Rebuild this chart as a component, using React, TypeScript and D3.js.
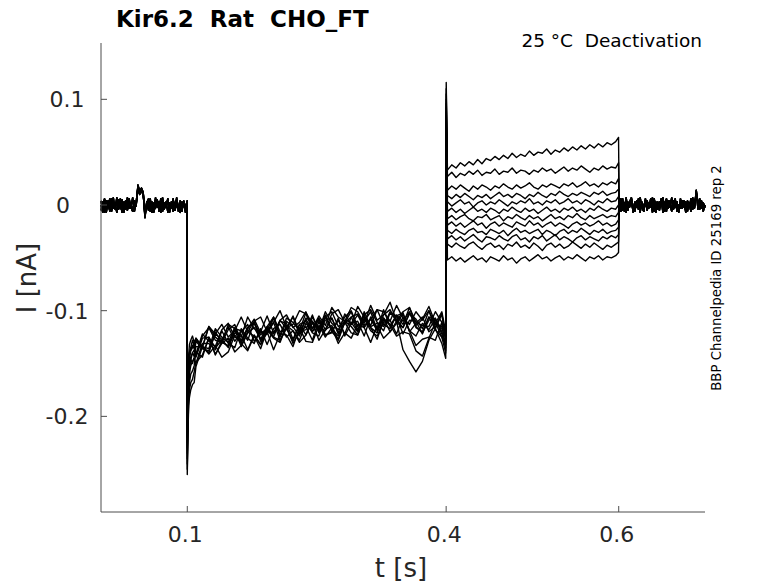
import * as d3 from "d3";

// currents in pA, time in s
const xTicks = [0.1, 0.4, 0.6];
const yTicks = [0.1, 0, -0.1, -0.2];
const yTickLabels = ["0.1", "0", "-0.1", "-0.2"];

// holding segment before the step (three overlapping baseline shapes)
const holdBaselines = [
  [4, -6, 5, -7, 2, -5, 6, -3, 0, -7, 5, -2, -6, 3, -4, 7, -3, 2, -6, 4, -1, 19, 13, 16, 12, -10, 3, -5, 6, -7, 2, -3, 5, -6, 0, 7, -4, 3, -7, 2, -3, 6, -5, 1, -6, 4, -2, 3, -7, 4],
  [-5, 3, -7, 4, -2, 6, -6, 2, -3, 7, -4, 0, 5, -7, 3, -3, 6, -2, -6, 3, 1, 15, 10, 14, 9, -7, -3, 4, -6, 2, -5, 7, -2, 3, -7, 4, -3, 0, 6, -5, 3, -6, 2, 5, -3, -7, 3, 0, -5, 2],
  [0, -7, 6, -3, 4, -6, 2, 7, -4, 3, -2, 6, -7, 0, 4, -5, 2, -3, 7, -6, 3, 17, 12, 15, 11, -12, 2, 6, -4, 3, -7, 0, 4, -3, 6, -6, 2, -2, 5, -7, 0, 3, -5, 7, -3, 2, -6, 4, -2, 3],
];

// tail after the second step
const tailBaselines = [
  [4, -3, 6, -6, 2, -5, 3, 7, -2, -6, 4, 0, -7, 3, -3, 6, -5, 2, -2, 7, -6, 3, 0, -5, 4, -7, 2, 6, -3, 0, -6, 4, -2, 3, -7, 6, -3, 2, -5, 4, 0, -6, 3, -2, 12, -4, 6, -3, 2, -2],
  [-3, 6, -5, 2, -7, 3, -2, 5, -6, 0, 3, -4, 7, -2, -6, 2, 4, -3, 6, -5, 0, -7, 3, -2, 6, -3, 2, -6, 4, -2, 7, -4, 0, 3, -6, 2, -3, 4, -7, 3, -2, 6, -4, 0, 9, 3, -3, 4, -6, 0],
  [2, -6, 3, -3, 7, -4, 0, 4, -7, 3, -2, 6, -3, 2, -6, 4, -4, 0, 3, -7, 6, -2, -4, 3, 0, 7, -6, 2, -3, 4, -4, 2, 6, -6, 0, -3, 4, -2, 3, -6, 2, -4, 7, -3, 14, 2, -4, 3, 0, -3],
];

// fast transient right after the step to the hyperpolarising potential
const earlyTimes = [0.1, 0.1008, 0.1016, 0.1025, 0.104, 0.106, 0.108];
const earlyCurrents = [
  [-205, -170, -150, -140, -135, -128, -133],
  [-220, -180, -158, -146, -138, -135, -131],
  [-235, -192, -168, -155, -147, -140, -143],
  [-240, -198, -172, -160, -152, -148, -145],
  [-200, -162, -142, -132, -128, -124, -130],
  [-250, -210, -185, -175, -168, -165, -158],
  [-225, -185, -162, -150, -144, -140, -137],
  [-255, -215, -190, -182, -175, -170, -168],
  [-215, -175, -152, -142, -137, -134, -130],
  [-230, -190, -166, -152, -146, -150, -144],
  [-245, -205, -180, -168, -160, -157, -152],
  [-210, -172, -150, -140, -136, -133, -136],
];

// hyperpolarising step, sampled from 0.11 s every 7.5 ms
const hyperCurrents = [
  [-128, -134, -115, -125, -130, -113, -117, -125, -106, -117, -120, -105, -121, -109, -104, -116, -111, -101, -117, -107, -118, -103, -99, -111, -113, -96, -106, -114, -99, -101, -110, -95, -107, -113, -101, -109, -100, -117, -103],
  [-141, -122, -129, -134, -118, -112, -125, -128, -116, -111, -127, -115, -106, -120, -117, -106, -122, -107, -110, -119, -101, -112, -118, -106, -100, -115, -110, -101, -118, -104, -99, -111, -116, -103, -108, -117, -100, -113, -115],
  [-129, -136, -138, -122, -127, -135, -117, -119, -128, -111, -129, -117, -122, -110, -112, -127, -113, -123, -106, -117, -119, -107, -122, -112, -106, -120, -101, -115, -112, -119, -102, -108, -116, -102, -115, -121, -109, -107, -120],
  [-150, -131, -131, -137, -119, -131, -135, -117, -126, -131, -117, -132, -117, -113, -125, -119, -128, -112, -120, -108, -123, -121, -107, -124, -112, -110, -124, -106, -117, -107, -120, -112, -103, -119, -124, -112, -118, -108, -122],
  [-126, -135, -115, -122, -113, -125, -119, -106, -120, -110, -106, -120, -111, -100, -116, -113, -100, -103, -117, -105, -114, -97, -106, -110, -97, -101, -112, -95, -109, -104, -92, -110, -101, -97, -114, -108, -96, -112, -101],
  [-149, -142, -126, -141, -131, -126, -139, -133, -120, -124, -136, -118, -126, -130, -114, -119, -130, -123, -111, -128, -118, -114, -128, -111, -121, -123, -108, -116, -127, -109, -113, -124, -120, -122, -138, -143, -126, -111, -125],
  [-144, -126, -125, -135, -128, -115, -129, -120, -113, -129, -120, -122, -107, -125, -110, -115, -124, -108, -119, -116, -104, -120, -109, -122, -106, -103, -114, -108, -119, -99, -115, -105, -102, -120, -112, -106, -120, -115, -103],
  [-153, -134, -141, -133, -144, -139, -123, -131, -138, -124, -132, -120, -137, -122, -123, -134, -116, -129, -130, -114, -125, -116, -131, -121, -126, -113, -116, -130, -114, -126, -120, -110, -137, -148, -158, -148, -128, -117, -131],
  [-143, -124, -116, -128, -130, -118, -113, -129, -117, -108, -121, -118, -106, -123, -107, -111, -119, -102, -112, -119, -106, -101, -115, -111, -101, -118, -104, -99, -111, -115, -101, -105, -113, -97, -111, -114, -115, -101, -111],
  [-134, -134, -140, -120, -130, -133, -118, -134, -121, -116, -127, -122, -111, -128, -117, -129, -113, -110, -121, -124, -106, -117, -124, -109, -111, -120, -104, -116, -121, -107, -114, -105, -122, -109, -110, -122, -106, -118, -125],
  [-139, -144, -125, -142, -129, -134, -121, -123, -137, -123, -132, -115, -125, -128, -115, -131, -120, -115, -128, -110, -123, -120, -127, -110, -115, -123, -107, -119, -124, -111, -109, -122, -106, -119, -133, -127, -125, -128, -111],
  [-126, -134, -136, -117, -125, -130, -116, -131, -116, -111, -123, -116, -125, -109, -117, -105, -120, -118, -104, -121, -109, -107, -121, -103, -113, -104, -116, -108, -99, -113, -117, -104, -110, -101, -116, -120, -106, -109, -117],
];
const preStepCurrents = [-125, -122, -130, -135, -120, -140, -128, -145, -124, -132, -138, -126];

// capacitive spikes at the onset and end of the second step
const onsetSpikes = [116, 110, 105, 100, 96, 92, 88, 84, 80, 76, 72, 68];
const offsetSpikes = [64, 40, 25, 15, 8, 0, -7, -14, -21, -28, -35, -45];

// second step, sampled from 0.4015 s every 5 ms
const depolCurrents = [
  [33, 38, 35, 40, 37, 41, 38, 43, 39, 44, 42, 46, 43, 47, 44, 49, 45, 48, 46, 51, 47, 50, 49, 53, 48, 52, 50, 54, 51, 55, 52, 56, 53, 57, 54, 58, 55, 59, 57, 60],
  [27, 31, 26, 30, 28, 32, 29, 33, 28, 31, 30, 34, 29, 32, 31, 35, 30, 33, 32, 29, 33, 31, 35, 32, 34, 30, 33, 36, 32, 35, 33, 37, 34, 31, 35, 33, 37, 34, 36, 35],
  [14, 18, 15, 19, 16, 13, 18, 15, 19, 17, 14, 18, 16, 20, 17, 15, 19, 16, 18, 21, 17, 15, 19, 17, 20, 18, 16, 20, 18, 21, 17, 19, 22, 18, 20, 17, 21, 19, 22, 20],
  [9, 6, 10, 7, 11, 8, 5, 9, 7, 10, 6, 9, 12, 8, 10, 7, 11, 9, 6, 10, 8, 12, 9, 7, 11, 9, 13, 10, 8, 11, 9, 12, 10, 8, 12, 10, 13, 9, 11, 12],
  [3, -1, 2, 5, 1, 3, -2, 2, 4, 0, 3, 1, 5, 2, -1, 3, 1, 4, 2, 6, 1, 3, 0, 4, 2, 5, 1, 3, 6, 2, 4, 1, 5, 3, 0, 4, 2, 6, 3, 4],
  [-6, -3, -7, -4, -8, -5, -2, -6, -4, -7, -3, -5, -8, -4, -6, -2, -5, -7, -3, -6, -4, -8, -5, -2, -6, -4, -7, -3, -5, -2, -6, -4, -7, -3, -5, -1, -4, -6, -3, -4],
  [-13, -10, -14, -11, -9, -13, -15, -11, -12, -9, -14, -12, -10, -15, -11, -13, -9, -12, -14, -10, -13, -11, -15, -12, -9, -13, -11, -14, -10, -12, -8, -12, -14, -10, -13, -11, -9, -12, -10, -11],
  [-19, -16, -20, -17, -21, -18, -15, -19, -17, -22, -18, -16, -20, -17, -19, -21, -16, -18, -20, -15, -19, -17, -21, -18, -16, -20, -17, -19, -22, -18, -16, -19, -17, -20, -18, -15, -19, -17, -20, -18],
  [-24, -27, -23, -26, -28, -24, -22, -26, -25, -28, -23, -25, -27, -24, -29, -25, -22, -26, -24, -27, -25, -23, -28, -24, -26, -29, -25, -23, -27, -24, -26, -22, -25, -28, -24, -26, -23, -27, -25, -24],
  [-32, -29, -33, -30, -34, -31, -28, -32, -35, -30, -31, -33, -29, -32, -34, -30, -28, -33, -31, -35, -30, -32, -29, -34, -31, -28, -33, -30, -32, -35, -31, -29, -33, -30, -32, -34, -30, -32, -29, -31],
  [-37, -40, -36, -39, -41, -37, -35, -39, -42, -38, -36, -40, -38, -42, -37, -39, -35, -40, -38, -41, -36, -39, -43, -38, -36, -40, -37, -41, -39, -35, -38, -41, -37, -40, -36, -39, -42, -38, -40, -37],
  [-52, -49, -53, -50, -54, -51, -48, -52, -50, -54, -49, -51, -53, -48, -52, -50, -55, -51, -49, -53, -50, -47, -51, -49, -53, -50, -48, -52, -49, -51, -47, -50, -53, -49, -51, -48, -52, -49, -50, -48],
];

const W = 778;
const H = 583;
const margin = { left: 101, right: 705, top: 43, bottom: 512 };

// sample grids
const holdTimes = d3.range(50).map((i) => (0.0999 * i) / 49);
const hyperTimes = d3.range(39).map((k) => 0.11 + 0.0075 * k);
const depolTimes = d3.range(40).map((k) => 0.4015 + 0.005 * k);
const tailTimes = d3.range(50).map((i) => 0.6005 + (0.0995 * i) / 49);

function buildSweep(s: number): [number, number][] {
  const pts: [number, number][] = [];
  const hb = holdBaselines[s % 3];
  holdTimes.forEach((t, i) => pts.push([t, hb[i]]));
  earlyTimes.forEach((t, i) => pts.push([t, earlyCurrents[s][i]]));
  hyperTimes.forEach((t, i) => pts.push([t, hyperCurrents[s][i]]));
  pts.push([0.3995, preStepCurrents[s]]);
  pts.push([0.4001, onsetSpikes[s]]);
  depolTimes.forEach((t, i) => pts.push([t, depolCurrents[s][i]]));
  pts.push([0.5998, offsetSpikes[s]]);
  const tb = tailBaselines[s % 3];
  tailTimes.forEach((t, i) => pts.push([t, tb[i]]));
  return pts.map(([t, pA]) => [t, pA / 1000]);
}

export default function App() {
  const x = d3.scaleLinear().domain([0, 0.7]).range([margin.left, margin.right]);
  const y = d3.scaleLinear().domain([-0.2905, 0.1533]).range([margin.bottom, margin.top]);
  const line = d3
    .line<[number, number]>()
    .defined((d) => Number.isFinite(d[1]))
    .x((d) => x(d[0]))
    .y((d) => y(d[1]));

  const sweeps = d3.range(earlyCurrents.length).map(buildSweep);
  const axisColor = "#4d4d4d";
  const textColor = "#262626";
  const font = "DejaVu Sans, sans-serif";

  return (
    <svg
      width={W}
      height={H}
      style={{ position: "absolute", top: 0, left: 0, background: "#fff" }}
      fontFamily={font}
    >
      <rect width={W} height={H} fill="#fff" />
      <g fill="none" stroke="#000" strokeWidth={1.4} strokeLinejoin="round">
        {sweeps.map((pts, i) => (
          <path key={i} d={line(pts) ?? ""} />
        ))}
      </g>

      {/* axes */}
      <line x1={margin.left} x2={margin.left} y1={margin.top} y2={margin.bottom} stroke={axisColor} />
      <line x1={margin.left} x2={margin.right} y1={margin.bottom} y2={margin.bottom} stroke={axisColor} />
      {xTicks.map((t) => (
        <g key={t}>
          <line x1={x(t)} x2={x(t)} y1={margin.bottom} y2={margin.bottom - 6} stroke={axisColor} />
          <text x={x(t) - 2} y={542} textAnchor="middle" fontSize={22} fill={textColor}>
            {t.toString()}
          </text>
        </g>
      ))}
      {yTicks.map((t, i) => (
        <g key={t}>
          <line x1={margin.left} x2={margin.left + 6} y1={y(t)} y2={y(t)} stroke={axisColor} />
          <text x={t === 0 ? 63 : 67} y={y(t) + 8} textAnchor="middle" fontSize={22} fill={textColor}>
            {yTickLabels[i]}
          </text>
        </g>
      ))}

      <text x={401} y={577} textAnchor="middle" fontSize={26} fill={textColor}>
        t [s]
      </text>
      <text
        transform="translate(36,278) rotate(-90)"
        textAnchor="middle"
        fontSize={26}
        fill={textColor}
      >
        I [nA]
      </text>

      <text x={116} y={27} fontSize={23} fontWeight="bold" fill="#000" style={{ whiteSpace: "pre" }}>
        Kir6.2  Rat  CHO_FT
      </text>
      <text x={702} y={47} textAnchor="end" fontSize={18.5} fill="#000" style={{ whiteSpace: "pre" }}>
        25 °C  Deactivation
      </text>
      <text
        transform="translate(721,278) rotate(-90)"
        textAnchor="middle"
        fontSize={13.3}
        fill="#000"
      >
        BBP Channelpedia ID 25169 rep 2
      </text>
    </svg>
  );
}
